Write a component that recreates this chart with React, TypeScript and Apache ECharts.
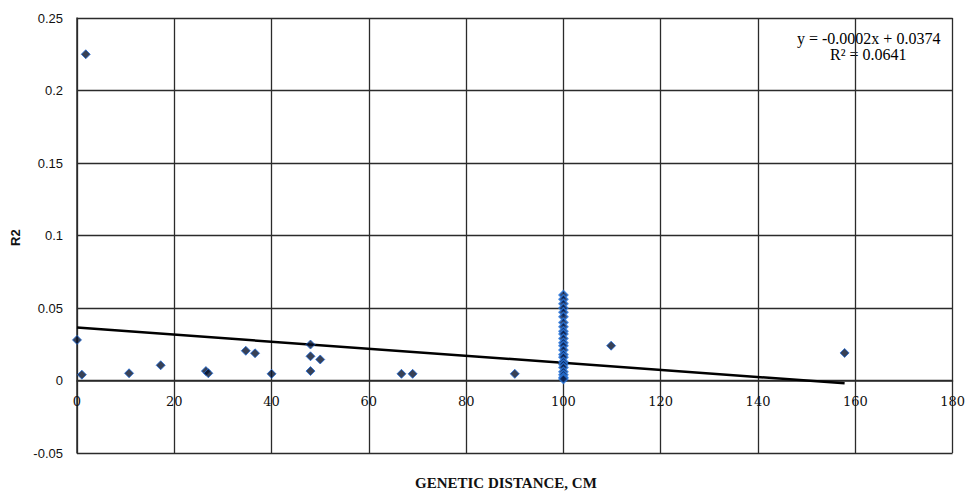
import React, { useEffect, useRef } from "react";
import * as echarts from "echarts";

const pointX: number[] = [0, 1, 1.8, 10.7, 17.2, 26.5, 27, 34.7, 36.6, 40, 48, 48, 48, 50, 66.7, 69, 90, 109.8, 157.8];
const pointY: number[] = [0.028, 0.004, 0.225, 0.005, 0.0105, 0.0065, 0.005, 0.0205, 0.0188, 0.0046, 0.0248, 0.0167, 0.0065, 0.0145, 0.0046, 0.0046, 0.0046, 0.024, 0.019];
const clusterX = 100;
const clusterY: number[] = [0.059, 0.056, 0.053, 0.05, 0.047, 0.044, 0.04, 0.037, 0.034, 0.032, 0.029, 0.026, 0.024, 0.021, 0.018, 0.016, 0.013, 0.011, 0.009, 0.006, 0.004, 0.002, 0.001];
const trendX: number[] = [0, 157.8];
const trendY: number[] = [0.0365, -0.0019];
const xTicks = { min: 0, max: 180, interval: 20 };
const yTicks = { min: -0.05, max: 0.25, interval: 0.05 };
const equationLines: string[] = ["y = -0.0002x + 0.0374", "R² = 0.0641"];
const xName = "GENETIC DISTANCE, CM";
const yName = "R2";

export default function App() {
  const ref = useRef<HTMLDivElement>(null);
  useEffect(() => {
    document.body.style.margin = "0";
    if (!ref.current) return;
    const chart = echarts.init(ref.current, undefined, { renderer: "svg" });
    const scatterData = pointX.map((x, i) => [x, pointY[i]]);
    const clusterData = clusterY.map((y) => [clusterX, y]);
    const trendData = trendX.map((x, i) => [x, trendY[i]]);
    const gridTop = 18;
    const gridBottom = 41;
    const plotH = 494 - gridTop - gridBottom;
    const zeroOffset = (plotH * (0 - yTicks.min)) / (yTicks.max - yTicks.min);
    chart.setOption({
      animation: false,
      backgroundColor: "#ffffff",
      grid: { left: 77, right: 14, top: gridTop, bottom: gridBottom, containLabel: false },
      xAxis: [
        {
          type: "value",
          min: xTicks.min,
          max: xTicks.max,
          interval: xTicks.interval,
          position: "bottom",
          axisLine: { show: false },
          axisTick: { show: false },
          axisLabel: { show: false },
          splitLine: { show: true, lineStyle: { color: "#2b2b2b", width: 1.3 } },
        },
        {
          type: "value",
          min: xTicks.min,
          max: xTicks.max,
          interval: xTicks.interval,
          position: "bottom",
          offset: -zeroOffset,
          axisLine: { show: true, onZero: false, lineStyle: { color: "#2b2b2b", width: 1.5 } },
          axisTick: { show: false },
          axisLabel: {
            margin: 14,
            color: "#111",
            fontSize: 13,
            fontFamily: "DejaVu Serif",
          },
          splitLine: { show: false },
        },
      ],
      yAxis: {
        type: "value",
        min: yTicks.min,
        max: yTicks.max,
        interval: yTicks.interval,
        axisLine: { show: true, onZero: false, lineStyle: { color: "#2b2b2b", width: 1.5 } },
        axisTick: { show: false },
        axisLabel: {
          margin: 14,
          color: "#111",
          fontSize: 13,
          fontFamily: "Liberation Sans",
          formatter: (v: number) => String(+v.toFixed(2)),
        },
        splitLine: { show: true, lineStyle: { color: "#2b2b2b", width: 1.3 } },
      },
      series: [
        {
          type: "line",
          data: trendData,
          symbol: "none",
          lineStyle: { color: "#000", width: 2.5 },
          z: 3,
        },
        {
          type: "scatter",
          data: scatterData,
          symbol: "diamond",
          symbolSize: 9,
          itemStyle: { color: "#06112c", borderColor: "#1f6ad8", borderWidth: 1 },
          z: 4,
        },
        {
          type: "scatter",
          data: clusterData,
          symbol: "diamond",
          symbolSize: 9,
          itemStyle: { color: "#0a2050", borderColor: "#2a78e0", borderWidth: 1.4 },
          z: 4,
        },
      ],
      graphic: [
        {
          type: "text",
          left: 797,
          top: 30,
          style: {
            text: equationLines[0],
            font: "16px 'Liberation Serif'",
            fill: "#000",
          },
        },
        {
          type: "text",
          left: 830,
          top: 46,
          style: {
            text: equationLines[1],
            font: "16px 'Liberation Serif'",
            fill: "#000",
          },
        },
        {
          type: "text",
          left: 415,
          top: 475,
          style: {
            text: xName,
            font: "bold 15px 'Liberation Serif'",
            fill: "#111",
          },
        },
        {
          type: "text",
          x: 9,
          y: 246,
          rotation: Math.PI / 2,
          style: {
            text: yName,
            font: "bold 13px 'Liberation Sans'",
            fill: "#111",
          },
        },
      ],
    });
    return () => chart.dispose();
  }, []);
  return <div ref={ref} style={{ width: 968, height: 494 }} />;
}
